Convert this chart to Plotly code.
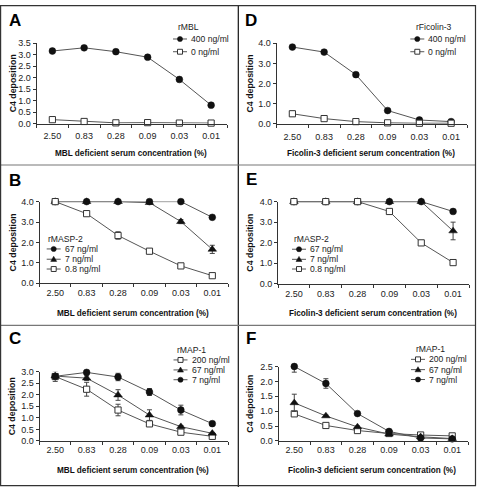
import plotly.graph_objects as go

W, H = 477, 492

conc = ["2.50", "0.83", "0.28", "0.09", "0.03", "0.01"]

# Panel A: rMBL on MBL deficient serum
a_400 = [3.16, 3.30, 3.13, 2.89, 1.92, 0.80]
a_400_err = [0.03, 0.03, 0.03, 0.03, 0.03, 0.03]
a_0 = [0.17, 0.09, 0.03, 0.04, 0.02, 0.02]
a_0_err = [0.02, 0.01, 0.01, 0.01, 0.01, 0.01]

# Panel D: rFicolin-3 on Ficolin-3 deficient serum
d_400 = [3.81, 3.56, 2.44, 0.66, 0.19, 0.11]
d_400_err = [0.05, 0.05, 0.08, 0.05, 0.03, 0.02]
d_0 = [0.50, 0.26, 0.11, 0.05, 0.03, 0.03]
d_0_err = [0.12, 0.03, 0.02, 0.01, 0.01, 0.01]

# Panel B: rMASP-2 on MBL deficient serum
b_67 = [4.0, 4.0, 4.0, 4.0, 4.0, 3.23]
b_67_err = [0, 0, 0, 0, 0, 0.03]
b_7 = [4.0, 4.0, 4.0, 3.95, 3.02, 1.66]
b_7_err = [0, 0, 0, 0.03, 0.1, 0.2]
b_08 = [4.0, 3.41, 2.34, 1.57, 0.85, 0.37]
b_08_err = [0, 0.03, 0.18, 0.03, 0.03, 0.03]

# Panel E: rMASP-2 on Ficolin-3 deficient serum
e_67 = [4.0, 4.0, 4.0, 4.0, 4.0, 3.52]
e_67_err = [0, 0, 0, 0, 0, 0.03]
e_7 = [4.0, 4.0, 4.0, 4.0, 4.0, 2.57]
e_7_err = [0, 0, 0, 0, 0.03, 0.43]
e_08 = [4.0, 4.0, 4.0, 3.52, 1.99, 1.03]
e_08_err = [0, 0, 0, 0.03, 0.05, 0.03]

# Panel C: rMAP-1 on MBL deficient serum
c_200 = [2.79, 2.24, 1.34, 0.74, 0.38, 0.20]
c_200_err = [0.10, 0.30, 0.25, 0.10, 0.05, 0.03]
c_67 = [2.81, 2.72, 1.99, 1.12, 0.62, 0.33]
c_67_err = [0.10, 0.10, 0.23, 0.23, 0.05, 0.04]
c_7 = [2.80, 2.97, 2.77, 2.12, 1.34, 0.75]
c_7_err = [0.22, 0.05, 0.16, 0.15, 0.21, 0.08]

# Panel F: rMAP-1 on Ficolin-3 deficient serum
f_200 = [0.91, 0.52, 0.35, 0.25, 0.20, 0.17]
f_200_err = [0.03, 0.02, 0.02, 0.02, 0.02, 0.02]
f_67 = [1.28, 0.84, 0.47, 0.23, 0.14, 0.08]
f_67_err = [0.29, 0.03, 0.03, 0.02, 0.02, 0.01]
f_7 = [2.50, 1.93, 0.92, 0.32, 0.10, 0.07]
f_7_err = [0.19, 0.16, 0.05, 0.04, 0.02, 0.01]

y_title = "C4 deposition"
x_title_mbl = "MBL deficient serum concentration (%)"
x_title_fic = "Ficolin-3 deficient serum concentration (%)"

FONT = "Liberation Sans, Arial, sans-serif"
LINEC = "#555555"
MK = "#111111"
TICK_SIZE = 9
TITLE_SIZE = 8.2
LEG_SIZE = 8.6

STY = {
    "circle": dict(symbol="circle", size=6.8, color=MK, line=dict(color=MK, width=0.5)),
    "tri": dict(symbol="triangle-up", size=7.5, color=MK, line=dict(color=MK, width=0.5)),
    "sq": dict(symbol="square", size=6.2, color="white", line=dict(color="#333333", width=1)),
}

# panel layout in pixels: x domain (left,right), y domain (top,bottom)
panels = [
    dict(letter="A", xd=(36.5, 227), yd=(39, 121), yr=[0, 3.5], dt=0.5, xt=x_title_mbl,
         letter_xy=(7, 15.5), ytx=13, xty=151.5, tstand=4,
         leg_title="rMBL", leg_tx=176, leg_ty=22.7, leg_lx=173, leg_rows=[34.7, 47.7],
         series=[("400 ng/ml", a_400, a_400_err, "circle"), ("0 ng/ml", a_0, a_0_err, "sq")],
         order=[0, 1]),
    dict(letter="D", xd=(276.5, 467), yd=(39, 121.3), yr=[0, 4], dt=1, xt=x_title_fic,
         letter_xy=(243, 15.5), ytx=250, xty=151.5, tstand=4,
         leg_title="rFicolin-3", leg_tx=413.5, leg_ty=22.7, leg_lx=410.3, leg_rows=[34.7, 47.7],
         series=[("400 ng/ml", d_400, d_400_err, "circle"), ("0 ng/ml", d_0, d_0_err, "sq")],
         order=[0, 1]),
    dict(letter="B", xd=(39.5, 228), yd=(200.7, 284), yr=[0, 4], dt=1, xt=x_title_mbl,
         letter_xy=(7, 179), ytx=13, xty=315, tstand=1,
         leg_title="rMASP-2", leg_tx=46, leg_ty=239, leg_lx=46.7, leg_rows=[249, 259.5, 269.5],
         series=[("67 ng/ml", b_67, b_67_err, "circle"), ("7 ng/ml", b_7, b_7_err, "tri"),
                 ("0.8 ng/ml", b_08, b_08_err, "sq")],
         order=[1, 0, 2]),
    dict(letter="E", xd=(278, 469), yd=(200.7, 284.5), yr=[0, 4], dt=1, xt=x_title_fic,
         letter_xy=(244, 178), ytx=250, xty=315, tstand=1,
         leg_title="rMASP-2", leg_tx=292, leg_ty=239, leg_lx=292, leg_rows=[249.3, 259.6, 269.5],
         series=[("67 ng/ml", e_67, e_67_err, "circle"), ("7 ng/ml", e_7, e_7_err, "tri"),
                 ("0.8 ng/ml", e_08, e_08_err, "sq")],
         order=[0, 1, 2]),
    dict(letter="C", xd=(39.5, 228), yd=(374.3, 445), yr=[0, 3], dt=0.5, xt=x_title_mbl,
         letter_xy=(7, 340), ytx=12, xty=475, tstand=0,
         leg_title="rMAP-1", leg_tx=175, leg_ty=352.5, leg_lx=173.5, leg_rows=[362.3, 372.5, 382.5],
         series=[("200 ng/ml", c_200, c_200_err, "sq"), ("67 ng/ml", c_67, c_67_err, "tri"),
                 ("7 ng/ml", c_7, c_7_err, "circle")],
         order=[0, 1, 2]),
    dict(letter="F", xd=(278.5, 468), yd=(369, 445), yr=[0, 2.5], dt=0.5, xt=x_title_fic,
         letter_xy=(244, 340), ytx=250, xty=475, tstand=0,
         leg_title="rMAP-1", leg_tx=413.5, leg_ty=351.5, leg_lx=411, leg_rows=[361.7, 372.2, 382.3],
         series=[("200 ng/ml", f_200, f_200_err, "sq"), ("67 ng/ml", f_67, f_67_err, "tri"),
                 ("7 ng/ml", f_7, f_7_err, "circle")],
         order=[0, 1, 2]),
]


def px(x):
    return x / W


def py(y):
    return 1 - y / H


fig = go.Figure()
annotations = []
shapes = []

for i, p in enumerate(panels, start=1):
    xa = "x" if i == 1 else f"x{i}"
    ya = "y" if i == 1 else f"y{i}"
    for k in p["order"]:
        name, vals, err, sty = p["series"][k]
        fig.add_trace(go.Scatter(
            x=conc, y=vals, name=name, mode="lines+markers",
            xaxis=xa, yaxis=ya, showlegend=False, cliponaxis=False,
            line=dict(color=LINEC, width=1),
            marker=STY[sty],
            error_y=dict(type="data", array=err, visible=True, color="#444444",
                         thickness=1, width=2.5),
        ))
    axkey = "xaxis" if i == 1 else f"xaxis{i}"
    aykey = "yaxis" if i == 1 else f"yaxis{i}"
    fig.layout[axkey] = dict(
        domain=[px(p["xd"][0]), px(p["xd"][1])], anchor=ya, type="category",
        range=[-0.5, 5.5], showline=True, linecolor="#333333", linewidth=1,
        ticks="outside", ticklen=3, tickcolor="#333333", tickson="boundaries",
        showgrid=False, zeroline=False, ticklabelstandoff=p["tstand"],
        tickfont=dict(family=FONT, size=TICK_SIZE, color="#222222"),
    )
    fig.layout[aykey] = dict(
        domain=[py(p["yd"][1]), py(p["yd"][0])], anchor=xa, range=p["yr"],
        dtick=p["dt"], tick0=0, tickformat=".1f", showline=True, linecolor="#333333",
        linewidth=1, ticks="outside", ticklen=3, tickcolor="#333333",
        showgrid=False, zeroline=False,
        tickfont=dict(family=FONT, size=TICK_SIZE, color="#222222"),
    )
    # panel letter
    lx, ly = p["letter_xy"]
    annotations.append(dict(text=f"<b>{p['letter']}</b>", x=px(lx), y=py(ly), xref="paper",
                            yref="paper", xanchor="left", yanchor="middle", showarrow=False,
                            font=dict(family=FONT, size=17, color="#000000")))
    # axis titles
    annotations.append(dict(text=f"<b>{y_title}</b>", textangle=-90, x=px(p["ytx"]),
                            y=py((p["yd"][0] + p["yd"][1]) / 2), xref="paper", yref="paper",
                            xanchor="center", yanchor="middle", showarrow=False,
                            font=dict(family=FONT, size=8.8, color="#111111")))
    annotations.append(dict(text=f"<b>{p['xt']}</b>", x=px((p["xd"][0] + p["xd"][1]) / 2 - 1),
                            y=py(p["xty"]), xref="paper", yref="paper", xanchor="center",
                            yanchor="middle", showarrow=False,
                            font=dict(family=FONT, size=TITLE_SIZE, color="#111111")))
    # legend (title + entries)
    annotations.append(dict(text=p["leg_title"], x=px(p["leg_tx"]), y=py(p["leg_ty"]),
                            xref="paper", yref="paper", xanchor="left", yanchor="middle",
                            showarrow=False, font=dict(family=FONT, size=LEG_SIZE, color="#222222")))
    x0 = p["leg_lx"]
    x1 = x0 + 14
    xm = (x0 + x1) / 2
    for (name, vals, err, sty), ry in zip(p["series"], p["leg_rows"]):
        shapes.append(dict(type="line", xref="paper", yref="paper", x0=px(x0), x1=px(x1),
                           y0=py(ry), y1=py(ry), line=dict(color=LINEC, width=1)))
        r = 2.6
        if sty == "circle":
            shapes.append(dict(type="circle", xref="paper", yref="paper",
                               x0=px(xm - r), x1=px(xm + r), y0=py(ry + r), y1=py(ry - r),
                               fillcolor=MK, line=dict(color=MK, width=0.5)))
        elif sty == "sq":
            shapes.append(dict(type="rect", xref="paper", yref="paper",
                               x0=px(xm - 2.5), x1=px(xm + 2.5), y0=py(ry + 2.5), y1=py(ry - 2.5),
                               fillcolor="white", line=dict(color="#333333", width=1)))
        else:
            path = (f"M {px(xm - 3)} {py(ry + 2.2)} L {px(xm + 3)} {py(ry + 2.2)} "
                    f"L {px(xm)} {py(ry - 3)} Z")
            shapes.append(dict(type="path", xref="paper", yref="paper", path=path,
                               fillcolor=MK, line=dict(color=MK, width=0.5)))
        annotations.append(dict(text=name, x=px(x1 + 2), y=py(ry), xref="paper", yref="paper",
                                xanchor="left", yanchor="middle", showarrow=False,
                                font=dict(family=FONT, size=LEG_SIZE, color="#222222")))

# panel frame lines
shapes += [
    dict(type="line", xref="paper", yref="paper", x0=px(238.3), x1=px(238.3), y0=0, y1=1,
         line=dict(color="#111111", width=1.2)),
    dict(type="line", xref="paper", yref="paper", x0=0, x1=px(476), y0=py(163.3), y1=py(163.3),
         line=dict(color="#777777", width=1.2)),
    dict(type="line", xref="paper", yref="paper", x0=0, x1=px(476), y0=py(327), y1=py(327),
         line=dict(color="#777777", width=1.2)),
    dict(type="rect", xref="paper", yref="paper", x0=px(0.6), x1=px(475.5), y0=py(490.5),
         y1=py(0.6), line=dict(color="#333333", width=1.2)),
]

fig.update_layout(
    width=W, height=H, margin=dict(l=0, r=0, t=0, b=0),
    paper_bgcolor="white", plot_bgcolor="white", showlegend=False,
    annotations=annotations, shapes=shapes,
    font=dict(family=FONT, size=TICK_SIZE, color="#222222"),
)

fig.write_html("out.html", config={"displayModeBar": False},
               post_script="document.body.style.margin='0';")
